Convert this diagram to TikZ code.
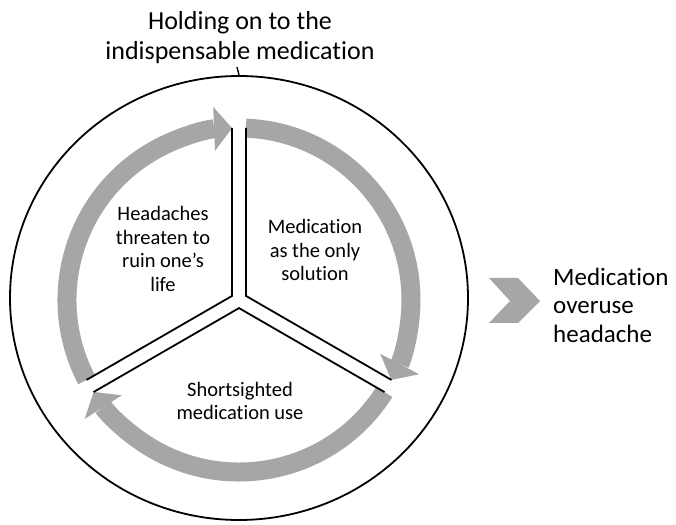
\documentclass[tikz,border=0pt]{standalone}
\usepackage{fontspec}
\setmainfont{Carlito}[Ligatures=NoCommon]
\usetikzlibrary{arrows.meta,calc,shapes.geometric}
\definecolor{arrowgrey}{HTML}{A6A6A6}

\begin{document}
\begin{tikzpicture}[x=1pt,y=1pt,
  cyclearrow/.style={draw=arrowgrey,line width=19pt,
    -{Triangle[length=18pt,width=44pt,line width=0pt]}},
  spoke/.style={line width=1.8pt,line join=miter},
  phase/.style={font=\fontsize{20.5}{23.5}\selectfont,align=center,inner sep=0pt},
  heading/.style={font=\fontsize{26}{30}\selectfont,align=center,inner sep=0pt},
  outcome/.style={font=\fontsize{25}{28.5}\selectfont,align=left,inner sep=0pt}]
\useasboundingbox (0,0) rectangle (676,524);
\coordinate (C) at (239,224);
% outer circle and title
\node[draw,ellipse,line width=1.8pt,minimum width=458,minimum height=444,inner sep=0pt] (ring) at (239,226) {};
\node[heading] (title) at (240,486) {Holding on to the\\indispensable medication};
\coordinate (tick) at (237,457);
\draw[line width=1.4pt] (ring.north) -- (tick);
% grey cycle
\draw[cyclearrow] ($(C)+(207.7:172)$) arc[start angle=207.7,end angle=92.3,radius=172];
\draw[cyclearrow] ($(C)+(87.7:172)$) arc[start angle=87.7,end angle=-27.7,radius=172];
\draw[cyclearrow] ($(C)+(-32.3:172)$) arc[start angle=-32.3,end angle=-147.7,radius=172];
% wedge corners and spoke ends
\coordinate (aL) at ($(C)+(150:8.1)$);
\coordinate (aR) at ($(C)+(30:8.1)$);
\coordinate (aB) at ($(C)+(270:8.1)$);
\coordinate (tL) at ($(C)+(90:172)+(180:7)$);
\coordinate (tR) at ($(C)+(90:172)+(0:7)$);
\coordinate (lU) at ($(C)+(210:172)+(120:7)$);
\coordinate (lD) at ($(C)+(210:172)+(300:7)$);
\coordinate (rU) at ($(C)+(330:172)+(60:7)$);
\coordinate (rD) at ($(C)+(330:172)+(240:7)$);
\draw[spoke] (tL) -- (aL) -- (lU);
\draw[spoke] (tR) -- (aR) -- (rU);
\draw[spoke] (lD) -- (aB) -- (rD);
% phases
\node[phase] (threat) at (163,275) {Headaches\\threaten to\\ruin one’s\\life};
\node[phase] (only) at (315,274) {Medication\\as the only\\solution};
\node[phase] (short) at (240,123) {Shortsighted\\medication use};
% outcome
\fill[arrowgrey] (489,246) -- (518,246) -- (540,223) -- (518,201) -- (489,201) -- (510,223) -- cycle;
\node[outcome,anchor=west] (moh) at (553,219) {Medication\\overuse\\headache};
\end{tikzpicture}
\end{document}
